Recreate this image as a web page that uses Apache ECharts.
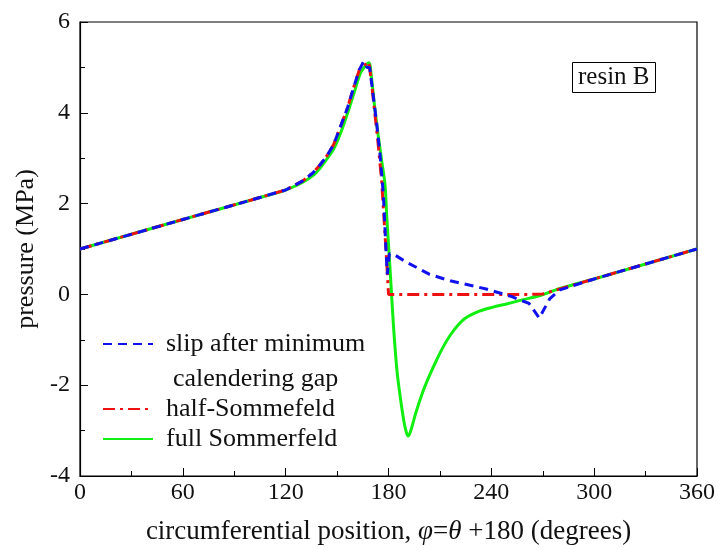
<!DOCTYPE html>
<html>
<head>
<meta charset="utf-8">
<script src="https://cdn.jsdelivr.net/npm/echarts@6/dist/echarts.min.js"></script>
<style>
	html, body { margin: 0; padding: 0; background: #fff; }
	#pressureChart { width: 720px; height: 550px; }
</style>
</head>
<body>
<div id="pressureChart"></div>
<script>
	// circumferential position (deg), pressure (MPa)
	var slipData = [
		[0, 1.0], [60, 1.65], [100, 2.08], [120, 2.3], [130, 2.5], [136, 2.68], [140, 2.85],
		[144, 3.05], [148, 3.3], [152, 3.7], [156, 4.1], [160, 4.6], [163, 4.95], [165.5, 5.13],
		[167.5, 5.0], [169, 5.0], [171, 4.4], [173, 3.8], [175, 3.1], [177, 2.2], [178.5, 1.0],
		[179.3, 0.44], [180.5, 0.9], [184, 0.86], [190, 0.72], [204, 0.44], [216, 0.3], [237, 0.12],
		[252, -0.05], [262, -0.2], [268, -0.52], [274, -0.1], [280, 0.1], [300, 0.34], [330, 0.67], [360, 1.0]
	];
	var halfData = [
		[0, 1.0], [60, 1.65], [100, 2.08], [120, 2.3], [130, 2.5], [136, 2.68], [140, 2.85],
		[144, 3.05], [148, 3.3], [152, 3.7], [156, 4.1], [160, 4.6], [163, 4.95], [166, 5.05],
		[168.5, 5.12], [170, 4.7], [172, 4.0], [174, 3.3], [176, 2.5], [178, 1.3], [179, 0.7],
		[180, 0], [262, 0], [270, 0.01], [300, 0.34], [330, 0.67], [360, 1.0]
	];
	var fullData = [
		[0, 1.0], [60, 1.65], [100, 2.08], [120, 2.3], [130, 2.47], [136, 2.62], [140, 2.78],
		[144, 2.98], [148, 3.2], [152, 3.55], [156, 3.98], [160, 4.45], [164, 4.9], [168.5, 5.1],
		[170, 4.8], [172, 4.1], [174, 3.5], [176, 2.95], [178, 2.4], [179, 1.7], [181, 0.5],
		[183, -0.75], [185, -1.7], [187, -2.3], [189, -2.8], [190.5, -3.05], [191.5, -3.12],
		[193, -3.0], [196, -2.6], [200, -2.15], [204, -1.78], [208, -1.45], [212, -1.15], [216, -0.9],
		[220, -0.7], [225, -0.52], [233, -0.37], [241, -0.28], [249, -0.21], [258, -0.12],
		[268, -0.03], [280, 0.13], [300, 0.34], [330, 0.67], [360, 1.0]
	];
	var seriesNames = ['slip after minimum', 'half-Sommefeld', 'full Sommerfeld'];

	var serif = 'Liberation Serif';
	var chart = echarts.init(document.getElementById('pressureChart'));

	var legendBase = {
		orient: 'vertical',
		left: 102,
		padding: 0,
		itemWidth: 50, itemHeight: 14, itemGap: 4,
		itemStyle: { opacity: 0 },
		textStyle: { fontFamily: serif, fontSize: 26, color: '#111', padding: [0, 0, 0, 8] }
	};

	var option = {
		backgroundColor: '#fff',
		animation: false,
		title: {
			text: 'resin B',
			left: 572,
			top: 62,
			padding: [3, 6, 3, 6],
			borderColor: '#000',
			borderWidth: 1,
			textStyle: { fontFamily: serif, fontSize: 25, fontWeight: 'normal', color: '#111' }
		},
		grid: {
			left: 80, right: 23, top: 22, bottom: 70,
			show: true, borderColor: '#000', borderWidth: 1.2
		},
		legend: [
			Object.assign({}, legendBase, { data: [seriesNames[0]], top: 331 }),
			Object.assign({}, legendBase, { data: [seriesNames[1], seriesNames[2]], top: 396 })
		],
		graphic: [{
			type: 'text',
			left: 173, top: 366,
			style: { text: 'calendering gap', font: '26px "Liberation Serif"', fill: '#111' }
		}],
		xAxis: {
			type: 'value',
			min: 0, max: 360, interval: 60,
			name: '{n|circumferential position, }{i|φ}{n|=}{i|θ}{n| +180 (degrees)}',
			nameLocation: 'middle',
			nameGap: 42,
			nameTextStyle: {
				rich: {
					n: { fontFamily: serif, fontSize: 27, color: '#111' },
					i: { fontFamily: serif, fontSize: 27, color: '#111', fontStyle: 'italic' }
				}
			},
			axisLine: { onZero: false, lineStyle: { color: '#000', width: 1.2 } },
			axisTick: { inside: true, length: 8, lineStyle: { color: '#000' } },
			minorTick: { show: true, splitNumber: 2, length: 5, lineStyle: { color: '#000' } },
			axisLabel: { fontFamily: serif, fontSize: 24, color: '#111', margin: 5 },
			splitLine: { show: false }
		},
		yAxis: {
			type: 'value',
			min: -4, max: 6, interval: 2,
			name: 'pressure (MPa)',
			nameLocation: 'middle',
			nameGap: 38,
			nameTextStyle: { fontFamily: serif, fontSize: 26, color: '#111' },
			axisLine: { show: true, onZero: false, lineStyle: { color: '#000', width: 1.2 } },
			axisTick: { show: true, inside: true, length: 8, lineStyle: { color: '#000' } },
			minorTick: { show: true, splitNumber: 2, length: 5, lineStyle: { color: '#000' } },
			axisLabel: { fontFamily: serif, fontSize: 24, color: '#111', margin: 10 },
			splitLine: { show: false }
		},
		series: [{
			name: seriesNames[2],
			type: 'line',
			data: fullData,
			symbol: 'none',
			smooth: 0.3,
			z: 2,
			lineStyle: { color: '#11ee11', width: 3 },
			itemStyle: { color: '#11ee11' }
		}, {
			name: seriesNames[1],
			type: 'line',
			data: halfData,
			symbol: 'none',
			z: 3,
			lineStyle: { color: '#ee1111', width: 3, type: [12, 5, 3, 5] },
			itemStyle: { color: '#ee1111' }
		}, {
			name: seriesNames[0],
			type: 'line',
			data: slipData,
			symbol: 'none',
			z: 4,
			lineStyle: { color: '#1111ee', width: 3, type: [9, 6] },
			itemStyle: { color: '#1111ee' }
		}]
	};

	chart.setOption(option);
</script>
</body>
</html>
